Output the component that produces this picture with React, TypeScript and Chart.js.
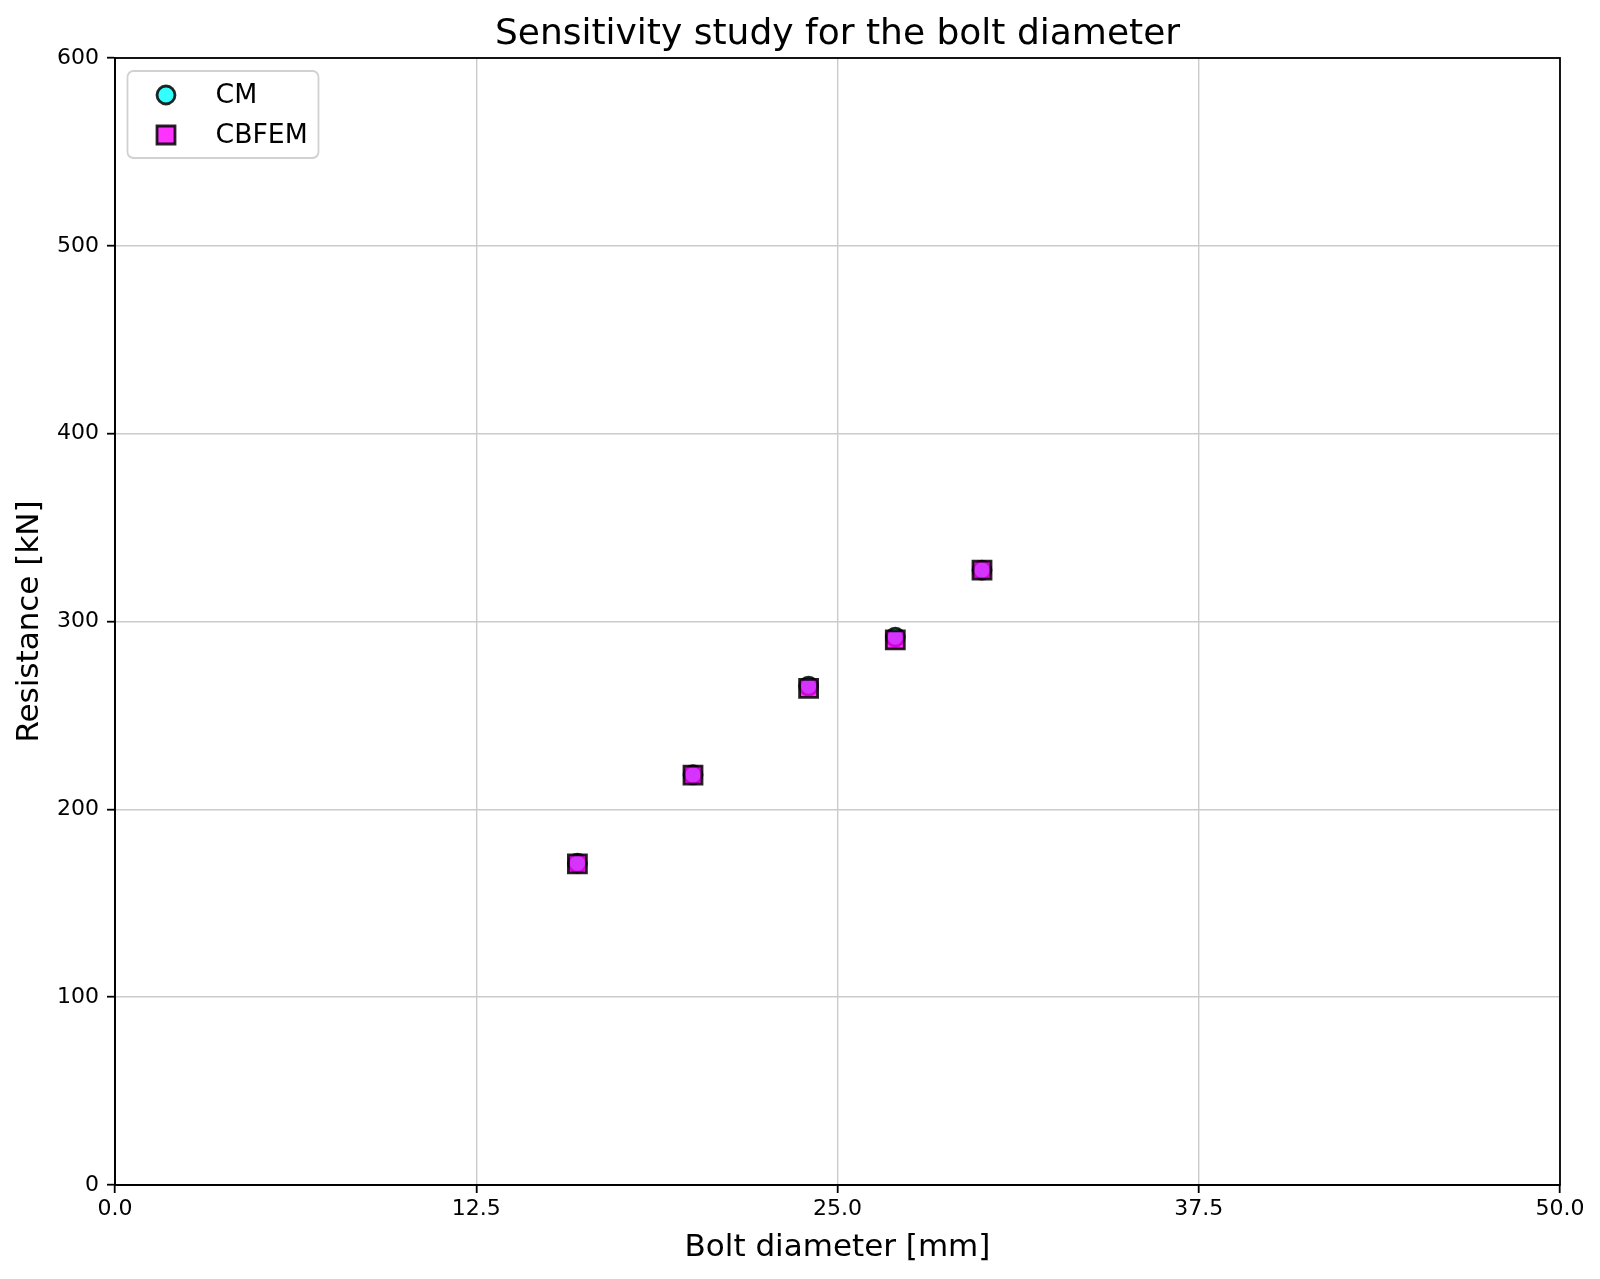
import { useEffect, useRef } from "react";
import { Chart, registerables, type Plugin } from "chart.js";

Chart.register(...registerables);

// bolt diameters [mm] and resistances [kN]
const boltDiameters = [16, 20, 24, 27, 30];
const cmResistance = [171.3, 218.4, 265.6, 291.7, 327.4];
const cbfemResistance = [171.0, 218.2, 264.4, 290.2, 327.3];

const seriesLabels = ["CM", "CBFEM"];
const xTickStep = 12.5;
const yTickStep = 100;

const FONT = "'DejaVu Sans', 'Liberation Sans', sans-serif";

const CM_FILL = "rgba(0, 255, 255, 0.8)";
const CBFEM_FILL = "rgba(255, 0, 255, 0.8)";
const EDGE = "rgba(0, 0, 0, 0.85)";
const EDGE_W = 2.8;

// matplotlib-like frame: all four spines
const framePlugin: Plugin<"scatter"> = {
  id: "frame",
  beforeDatasetsDraw(chart) {
    const { ctx, chartArea: a } = chart;
    ctx.save();
    ctx.strokeStyle = "#000";
    ctx.lineWidth = 1.8;
    ctx.strokeRect(a.left, a.top, a.right - a.left, a.bottom - a.top);
    ctx.restore();
  },
};

// legend box in the upper-left corner of the axes
const boxLegendPlugin: Plugin<"scatter"> = {
  id: "boxLegend",
  afterDraw(chart) {
    const { ctx, chartArea: a } = chart;
    const x = a.left + 12.5;
    const y = a.top + 13;
    const w = 191;
    const h = 87;
    const r = 6;
    ctx.save();
    ctx.beginPath();
    ctx.moveTo(x + r, y);
    ctx.arcTo(x + w, y, x + w, y + h, r);
    ctx.arcTo(x + w, y + h, x, y + h, r);
    ctx.arcTo(x, y + h, x, y, r);
    ctx.arcTo(x, y, x + w, y, r);
    ctx.closePath();
    ctx.fillStyle = "rgba(255,255,255,0.8)";
    ctx.fill();
    ctx.strokeStyle = "rgba(204,204,204,0.9)";
    ctx.lineWidth = 1.8;
    ctx.stroke();

    const mx = x + 38.5;
    const rows = [y + 24, y + 64];
    ctx.lineWidth = EDGE_W;
    ctx.strokeStyle = EDGE;

    // circle
    ctx.beginPath();
    ctx.arc(mx, rows[0], 9, 0, Math.PI * 2);
    ctx.fillStyle = CM_FILL;
    ctx.fill();
    ctx.stroke();

    // square
    ctx.beginPath();
    ctx.rect(mx - 9, rows[1] - 9, 18, 18);
    ctx.fillStyle = CBFEM_FILL;
    ctx.fill();
    ctx.stroke();

    ctx.fillStyle = "#000";
    ctx.font = `26.7px ${FONT}`;
    ctx.textAlign = "left";
    ctx.textBaseline = "alphabetic";
    seriesLabels.forEach((label, i) => {
      ctx.fillText(label, x + 88, rows[i] + 7.5);
    });
    ctx.restore();
  },
};

export default function App() {
  const canvasRef = useRef<HTMLCanvasElement | null>(null);
  const chartRef = useRef<Chart<"scatter"> | null>(null);

  useEffect(() => {
    const canvas = canvasRef.current;
    if (!canvas) return;

    chartRef.current?.destroy();

    const chart = new Chart(canvas, {
      type: "scatter",
      data: {
        datasets: [
          {
            label: seriesLabels[0],
            data: boltDiameters.map((d, i) => ({ x: d, y: cmResistance[i] })),
            pointStyle: "circle",
            pointRadius: 9,
            pointHoverRadius: 9,
            backgroundColor: CM_FILL,
            borderColor: EDGE,
            borderWidth: EDGE_W,
            order: 1,
          },
          {
            label: seriesLabels[1],
            data: boltDiameters.map((d, i) => ({ x: d, y: cbfemResistance[i] })),
            pointStyle: "rect",
            pointRadius: 12.73,
            pointHoverRadius: 12.73,
            backgroundColor: CBFEM_FILL,
            borderColor: EDGE,
            borderWidth: EDGE_W,
            order: 0,
          },
        ],
      },
      options: {
        animation: false,
        responsive: true,
        maintainAspectRatio: false,
        layout: { padding: { left: 0, right: 40, top: 0, bottom: 0 } },
        plugins: {
          legend: { display: false },
          tooltip: { enabled: false },
          title: {
            display: true,
            text: "Sensitivity study for the bolt diameter",
            color: "#000",
            fullSize: false,
            font: { family: FONT, size: 36, weight: "normal", lineHeight: 1.2 },
            padding: { top: 13, bottom: 1.8 },
          },
        },
        scales: {
          x: {
            type: "linear",
            min: 0,
            max: 50,
            afterFit: (scale) => {
              scale.height = 94;
            },
            ticks: {
              stepSize: xTickStep,
              color: "#000",
              padding: 3.5,
              font: { family: FONT, size: 22 },
              callback: (v) => Number(v).toFixed(1),
            },
            grid: {
              color: "#cbcbcb",
              lineWidth: 1.4,
              tickColor: "#000",
              tickWidth: 1.8,
              tickLength: 8,
            },
            border: { color: "#000", width: 1.8 },
            title: {
              display: true,
              text: "Bolt diameter [mm]",
              color: "#000",
              font: { family: FONT, size: 31, lineHeight: 1.2 },
              padding: { top: 0, bottom: 12.4 },
            },
          },
          y: {
            type: "linear",
            min: 0,
            max: 600,
            afterFit: (scale) => {
              scale.width = 115;
            },
            ticks: {
              stepSize: yTickStep,
              color: "#000",
              padding: 8,
              font: { family: FONT, size: 22 },
            },
            grid: {
              color: "#cbcbcb",
              lineWidth: 1.4,
              tickColor: "#000",
              tickWidth: 1.8,
              tickLength: 8,
            },
            border: { color: "#000", width: 1.8 },
            title: {
              display: true,
              text: "Resistance [kN]",
              color: "#000",
              font: { family: FONT, size: 31, lineHeight: 1.2 },
              padding: { top: 11.4, bottom: 0 },
            },
          },
        },
      },
      plugins: [framePlugin, boxLegendPlugin],
    });

    chartRef.current = chart;

    return () => {
      chartRef.current?.destroy();
      chartRef.current = null;
    };
  }, []);

  return (
    <div
      style={{
        position: "absolute",
        left: 0,
        top: 0,
        width: 1600,
        height: 1279,
        background: "#fff",
      }}
    >
      <canvas ref={canvasRef} />
    </div>
  );
}
